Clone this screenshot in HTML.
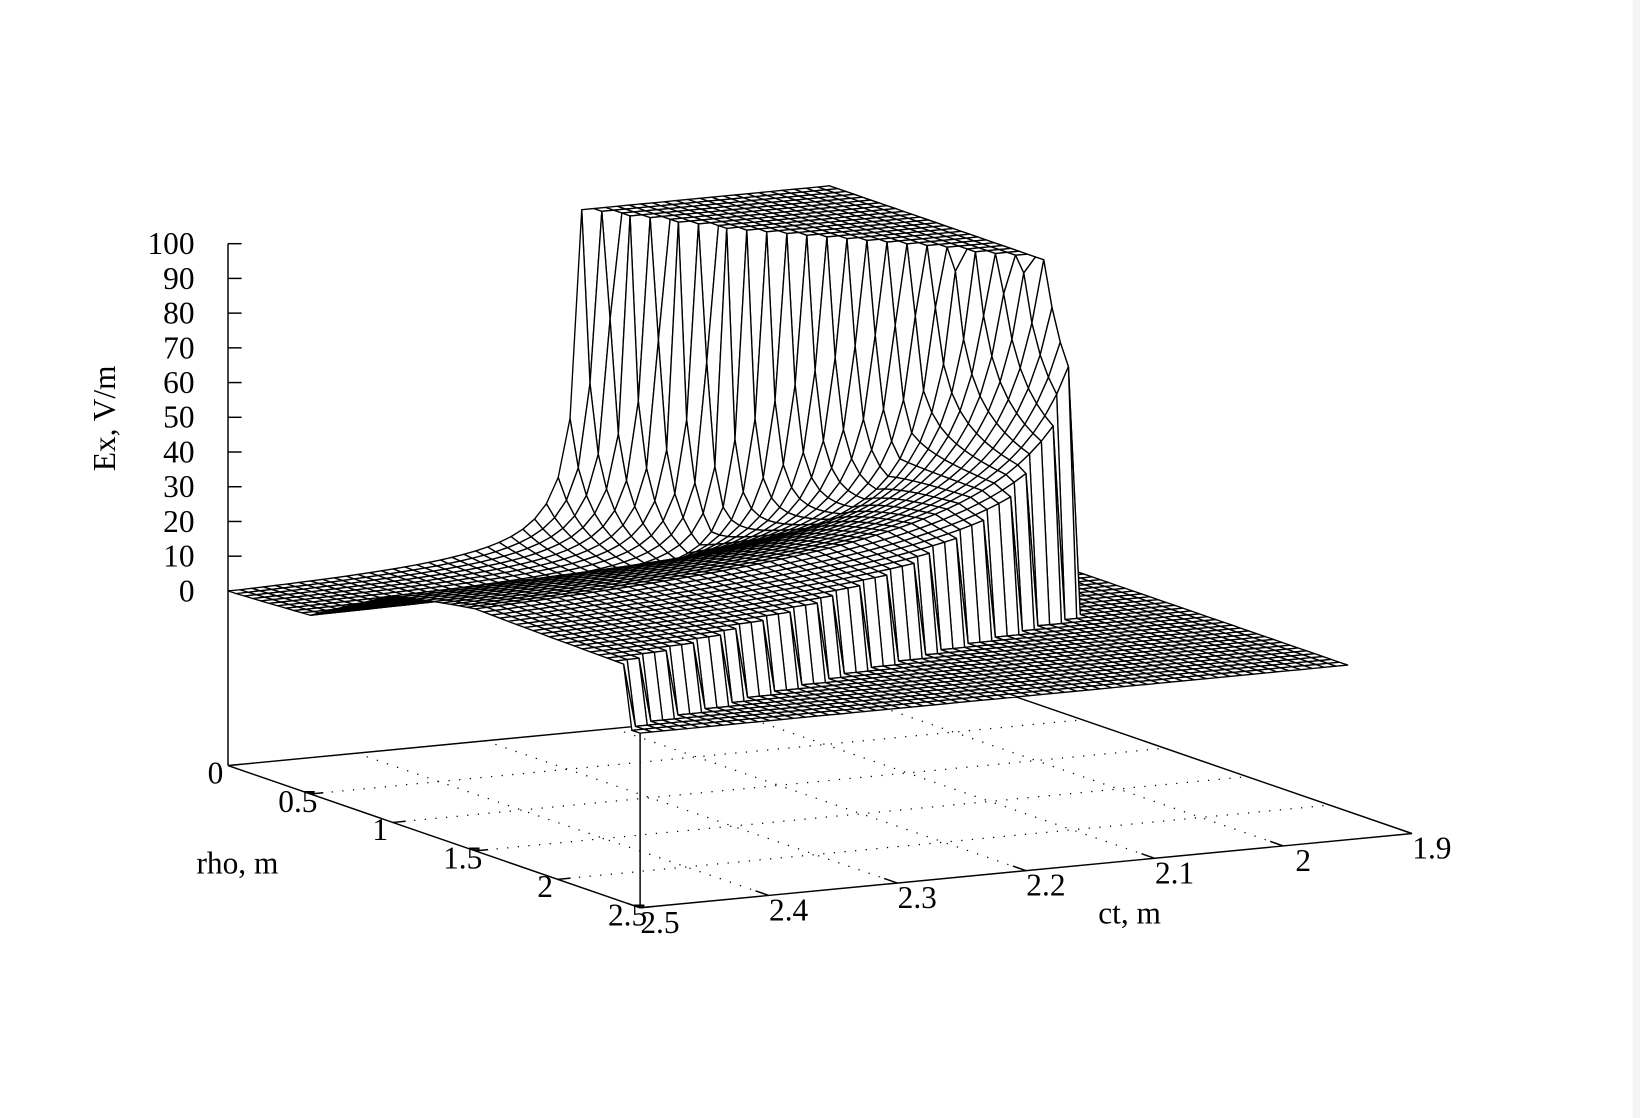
<!DOCTYPE html>
<html><head><meta charset="utf-8"><title>Ex surface</title>
<style>html,body{margin:0;padding:0;background:#fff;}svg{display:block;}
text{font-family:"Liberation Serif",serif;fill:#000;}</style></head>
<body>
<svg id="chart" width="1640" height="1118" viewBox="0 0 1568 1069" preserveAspectRatio="none" xmlns="http://www.w3.org/2000/svg">
<rect x="0" y="0" width="1568" height="1069" fill="#fff"/>
<rect x="1561" y="0" width="7" height="1069" fill="#f4f4f4"/>
<g id="base"></g>
<g id="surf"></g>
<g id="labels"></g>
<text x="100" y="400" font-size="30" text-anchor="middle" transform="rotate(-90 100 400)" dy="10">Ex, V/m</text>
<text x="227" y="835" font-size="30" text-anchor="middle">rho, m</text>
<text x="1080" y="883" font-size="30" text-anchor="middle">ct, m</text>
</svg>
<script>
// ---- data ----
const rhoTicks = [0, 0.5, 1, 1.5, 2, 2.5];
const ctTicks = [2.5, 2.4, 2.3, 2.2, 2.1, 2, 1.9];
const zTicks = [0, 10, 20, 30, 40, 50, 60, 70, 80, 90, 100];
const paramRho = [0, 0.5, 1.0, 1.5, 2.0, 2.5];
const singularCt = [2.22, 2.16, 2.06, 1.96, 1.90, 1.85];
const ampK = [0.6, 0.4, 1.3, 4.0, 4.0, 4.0];
const floorF = [-2.2, 0, 12, 12, 12, 12];
const waveFrontCt = [2.03];
const boundaryCt = [2.03, 2.5];
const boundaryRho = [1.47, 2.4];
const rhoRange = [0, 2.5];
const ctRange = [1.95, 2.5];
const zMax = [100];

// ---- projection ----
const A = [218, 732], U = [394, 136], V = [738, -71];
const KZ = 3.32, ZOFF = 50.3;
function baseXY(rho, ct) {
  const a = rho / 2.5, t = (2.5 - ct) / 0.6;
  return [A[0] + a * U[0] + t * V[0], A[1] + a * U[1] + t * V[1]];
}
function proj(rho, ct, z) {
  const b = baseXY(rho, ct);
  return [b[0], b[1] - (z + ZOFF) * KZ];
}
function lerpArr(xs, ys, x) {
  if (x <= xs[0]) return ys[0];
  for (let i = 1; i < xs.length; i++) if (x <= xs[i]) {
    const f = (x - xs[i - 1]) / (xs[i] - xs[i - 1]); return ys[i - 1] + f * (ys[i] - ys[i - 1]);
  }
  return ys[ys.length - 1];
}
function field(rho, ct) {
  if (ct < waveFrontCt[0]) return 0;
  const rb = lerpArr(boundaryCt, boundaryRho, ct);
  if (rho > rb) return 0;
  const S = lerpArr(paramRho, singularCt, rho), K = lerpArr(paramRho, ampK, rho), F = lerpArr(paramRho, floorF, rho);
  if (ct <= S) return zMax[0];
  return Math.max(0, Math.min(zMax[0], F + K / (ct - S)));
}
const NS = 'http://www.w3.org/2000/svg';
function mk(tag, attrs, parent) { const e = document.createElementNS(NS, tag); for (const k in attrs) e.setAttribute(k, attrs[k]); parent.appendChild(e); return e; }
const base = document.getElementById('base'), surf = document.getElementById('surf'), labels = document.getElementById('labels');

// base dotted grid
rhoTicks.slice(1, -1).forEach(r => {
  const p = baseXY(r, 2.5), q = baseXY(r, 1.9);
  const l = mk('line', {x1: p[0], y1: p[1], x2: q[0], y2: q[1], stroke: '#000', 'stroke-width': 1.2, 'stroke-dasharray': '1.2 9'}, base);
  
  
});
ctTicks.slice(1, -1).forEach(c => {
  const p = baseXY(0, c), q = baseXY(2.5, c);
  const l = mk('line', {x1: p[0], y1: p[1], x2: q[0], y2: q[1], stroke: '#000', 'stroke-width': 1.2, 'stroke-dasharray': '1.2 9'}, base);
  
  
});
// base border
const cA = baseXY(0, 2.5), cB = baseXY(2.5, 2.5), cC = baseXY(2.5, 1.9), cD = baseXY(0, 1.9);
[[cA, cB, 'rho-axis'], [cB, cC, 'ct-axis'], [cC, cD, 'base-right-edge'], [cD, cA, 'base-back-edge']].forEach(s => {
  const l = mk('line', {x1: s[0][0], y1: s[0][1], x2: s[1][0], y2: s[1][1], stroke: '#000', 'stroke-width': 1.4}, base);
  
  
});
// verticals
const zTop = proj(0, 2.5, 100);
const zl = mk('line', {x1: cA[0], y1: cA[1], x2: zTop[0], y2: zTop[1], stroke: '#000', 'stroke-width': 1.4}, base);


const bTop = proj(2.5, 2.5, 100);
const bl = mk('line', {x1: cB[0], y1: cB[1], x2: bTop[0], y2: bTop[1], stroke: '#000', 'stroke-width': 1.4}, base);


// z ticks and labels
zTicks.forEach(z => {
  const p = proj(0, 2.5, z);
  const t = mk('line', {x1: p[0], y1: p[1], x2: p[0] + 13, y2: p[1], stroke: '#000', 'stroke-width': 1.4}, base);
  
  
  const tx = mk('text', {x: p[0] - 32, y: p[1] + 10, 'font-size': 30, 'text-anchor': 'end'}, labels);
  tx.textContent = String(z);
  
  
});
// rho ticks
rhoTicks.forEach(r => {
  const p = baseXY(r, 2.5), q = baseXY(r, 2.49);
  const t = mk('line', {x1: p[0], y1: p[1], x2: q[0], y2: q[1], stroke: '#000', 'stroke-width': 1.4}, base);
  
  
  const tx = mk('text', {x: p[0] - 12, y: p[1] + 17, 'font-size': 30, 'text-anchor': 'middle'}, labels);
  tx.textContent = String(r);
  
  
});
// ct ticks
ctTicks.forEach(c => {
  const p = baseXY(2.5, c), q = baseXY(2.42, c);
  const t = mk('line', {x1: p[0], y1: p[1], x2: q[0], y2: q[1], stroke: '#000', 'stroke-width': 1.4}, base);
  
  
  const tx = mk('text', {x: p[0] + 19, y: p[1] + 24, 'font-size': 30, 'text-anchor': 'middle'}, labels);
  tx.textContent = String(c);
  
  
});
// surface mesh
const NR = 50, NC = 60;
const grid = [];
for (let i = 0; i <= NR; i++) {
  grid.push([]);
  const r = rhoRange[0] + (rhoRange[1] - rhoRange[0]) * i / NR;
  for (let j = 0; j <= NC; j++) {
    const c = ctRange[0] + (ctRange[1] - ctRange[0]) * j / NC;
    grid[i].push({r: r, c: c, z: field(r, c)});
  }
}
const quads = [];
for (let i = 0; i < NR; i++) for (let j = 0; j < NC; j++) {
  const pts = [grid[i][j], grid[i + 1][j], grid[i + 1][j + 1], grid[i][j + 1]];
  const mr = (pts[0].r + pts[2].r) / 2, mc = (pts[0].c + pts[2].c) / 2;
  quads.push({pts: pts, d: baseXY(mr, mc)[1]});
}
quads.sort((a, b) => a.d - b.d);
quads.forEach(q => {
  const s = q.pts.map(p => { const xy = proj(p.r, p.c, p.z); return xy[0].toFixed(1) + ',' + xy[1].toFixed(1); }).join(' ');
  const pg = mk('polygon', {points: s, fill: '#fff', stroke: '#000', 'stroke-width': 1.3, 'stroke-linejoin': 'round'}, surf);
  
  
});
</script>
</body></html>
